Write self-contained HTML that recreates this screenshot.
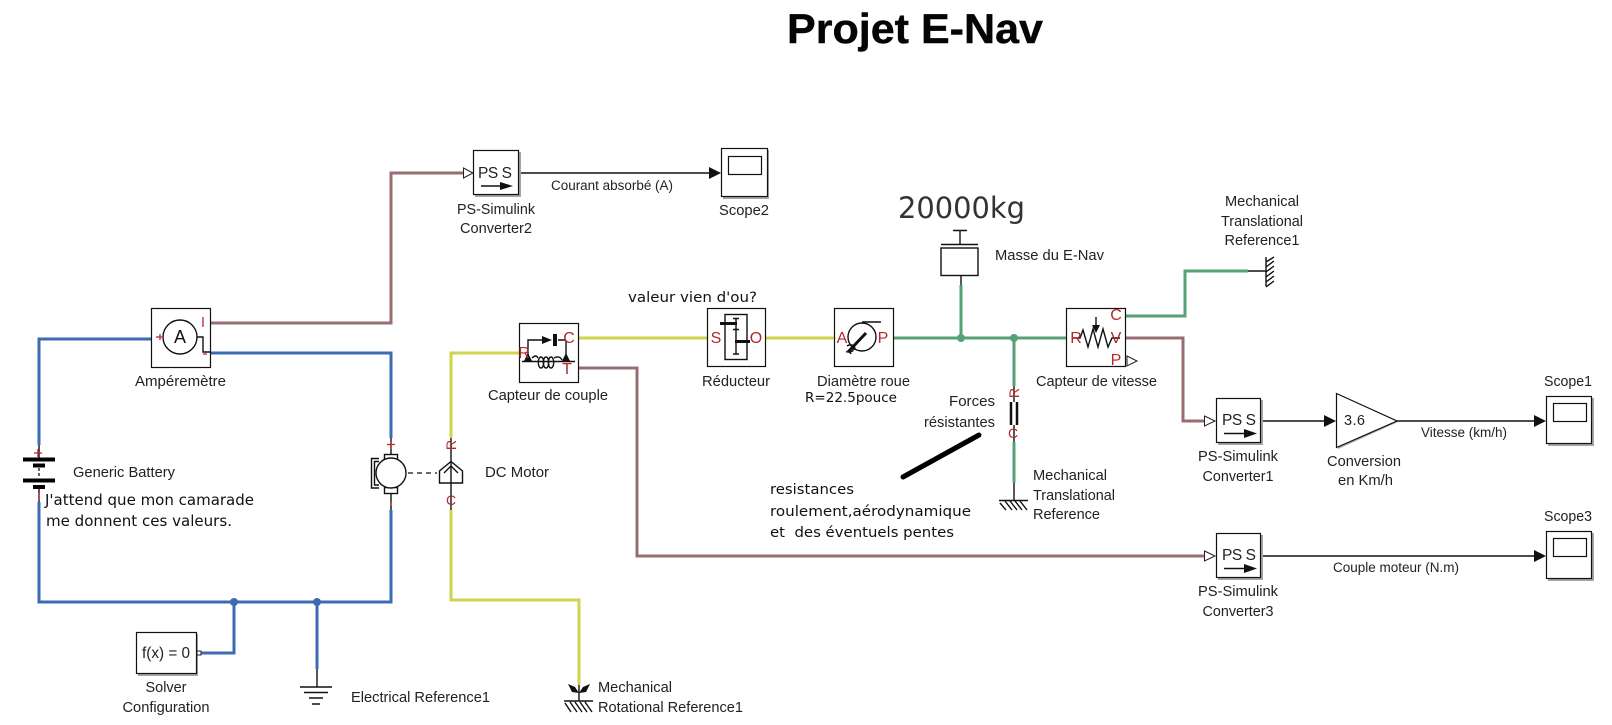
<!DOCTYPE html>
<html><head><meta charset="utf-8"><title>Projet E-Nav</title>
<style>
html,body{margin:0;padding:0;background:#fff;width:1612px;height:725px;overflow:hidden}
svg{display:block}
text{font-family:"Liberation Sans",Arial,sans-serif;font-size:14.5px;fill:#222}
.d{font-family:"DejaVu Sans",sans-serif;fill:#111}
.r{fill:#b5272b;font-size:16px;text-anchor:middle}
.c{text-anchor:middle}
.w{fill:none;stroke-width:3}
.b{stroke:#3b6bb2}.br{stroke:#976d72}.y{stroke:#cdd64c}.g{stroke:#56a278}
.k{fill:none;stroke:#111;stroke-width:1.4}
.box{fill:#fff;stroke:#111;stroke-width:1.2}
.sh{fill:#a5a5a5}
</style></head><body>
<svg width="1612" height="725" viewBox="0 0 1612 725" xmlns="http://www.w3.org/2000/svg">
<rect width="1612" height="725" fill="#fff"/>
<text x="787" y="43" fill="#888" textLength="256" lengthAdjust="spacingAndGlyphs" style="font-size:42px;font-weight:bold;fill:#050505;stroke:#050505;stroke-width:.4">Projet E-Nav</text>

<!-- wires -->
<path class="w b" d="M151 339H39V445"/>
<path class="w b" d="M39 502V602H391V510"/>
<path class="w b" d="M211 353H391V438"/>
<path class="w b" d="M201 653H234V602"/>
<path class="w b" d="M317 602V669"/>
<circle cx="234" cy="602" r="4" fill="#3b6bb2"/><circle cx="317" cy="602" r="4" fill="#3b6bb2"/>
<path class="w br" d="M211 323H391V173H463"/>
<path class="w br" d="M579 368H637V556H1204"/>
<path class="w br" d="M1126 338H1183V421H1204"/>
<path class="w y" d="M519 353H451V438"/>
<path class="w y" d="M451 510V600H579V685"/>
<path class="w y" d="M579 338H707"/>
<path class="w y" d="M766 338H834"/>
<path class="w g" d="M894 338H1066"/>
<path class="w g" d="M961 285V338"/>
<path class="w g" d="M1014 338V386"/>
<path class="w g" d="M1014 442V483"/>
<path class="w g" d="M1126 316H1185V271H1248"/>
<circle cx="961" cy="338" r="4" fill="#56a278"/><circle cx="1014" cy="338" r="4" fill="#56a278"/>

<!-- signal lines -->
<path class="k" d="M519 173H710M1261 421H1325M1397 421H1535M1261 556H1535"/>
<path d="M709 167L721 173L709 179ZM1324 415L1336 421L1324 427ZM1534 415L1546 421L1534 427ZM1534 550L1546 556L1534 562Z" fill="#111"/>

<!-- Ampèremètre -->
<rect class="box" x="151.500" y="308.500" width="59" height="59"/>
<circle cx="180" cy="337" r="17" class="k"/>
<text x="180" y="343" class="c" style="font-size:18px;fill:#111">A</text>
<path class="k" d="M197 337H203V352H211"/>
<path d="M156 337h7M160 334v6M203 317v10M203 354h4" stroke="#b5272b" stroke-width="1.300" fill="none"/>
<text x="135" y="386" textLength="91" lengthAdjust="spacingAndGlyphs">Ampéremètre</text>

<!-- Battery -->
<path d="M39 445V459" class="k"/>
<path d="M23 459.500H55M33 465.500H45M23 480.500H55M33 487H45" stroke="#000" stroke-width="4" fill="none"/>
<path d="M39 468V478" stroke="#111" stroke-width="1.300" stroke-dasharray="3 2"/>
<path d="M39 489V502" class="k"/>
<path d="M34 453h8M38 449v8M39 493v7" stroke="#b5272b" stroke-width="1.300" fill="none"/>
<text x="73" y="477" textLength="102" lengthAdjust="spacingAndGlyphs">Generic Battery</text>
<text x="45" y="505" class="d" textLength="209" lengthAdjust="spacingAndGlyphs" style="font-size:15px">J'attend que mon camarade</text>
<text x="46" y="526" class="d" textLength="186" lengthAdjust="spacingAndGlyphs" style="font-size:15px">me donnent ces valeurs.</text>

<!-- Motor -->
<path class="k" d="M391 438V454M391 493V510"/>
<rect x="384.500" y="454.500" width="13" height="6" class="k"/><rect x="384.500" y="487.500" width="13" height="6" class="k"/>
<circle cx="391" cy="473" r="15" class="k" style="fill:#fff"/>
<path class="k" d="M379 458.500H371.500V488H379M379 461.500H374.500V485H379"/>
<path d="M408 473H437" stroke="#111" stroke-width="1.300" stroke-dasharray="5 4"/>
<path d="M387 444.500h8M391 441v8M391 502v4" stroke="#b5272b" stroke-width="1.300" fill="none"/>
<!-- rotational converter -->
<path class="k" d="M451 438V510"/>
<path class="k" d="M439.500 483V471L451 461.500L462.500 471V483ZM444 473L451 466L458 473"/>
<text x="451" y="450" class="r" style="font-size:14px" transform="rotate(-90 451 445)">R</text>
<text x="451" y="505" class="r" style="font-size:14px">C</text>
<text x="485" y="477" textLength="64" lengthAdjust="spacingAndGlyphs">DC Motor</text>

<!-- Converter2 -->
<rect class="sh" x="475" y="152" width="46" height="45"/>
<rect class="box" x="473.500" y="150.500" width="45" height="44"/>
<path d="M463.500 168L473 173L463.500 178Z" fill="#fff" stroke="#222"/>
<text x="478" y="178" textLength="34" lengthAdjust="spacing" style="font-size:15.500px">PS S</text>
<path d="M481 186H503" class="k"/><path d="M500 182L513 186L500 190Z" fill="#111"/>
<text x="496" y="214" class="c" textLength="78" lengthAdjust="spacingAndGlyphs">PS-Simulink</text>
<text x="496" y="233" class="c" textLength="72" lengthAdjust="spacingAndGlyphs">Converter2</text>
<text x="551" y="190" textLength="122" lengthAdjust="spacingAndGlyphs" style="font-size:13.500px">Courant absorbé (A)</text>
<!-- Scope2 -->
<rect class="sh" x="723" y="150" width="46" height="49"/>
<rect class="box" x="721.500" y="148.500" width="46" height="48"/>
<rect class="box" x="728.500" y="156.500" width="33" height="18"/>
<text x="744" y="215" class="c" textLength="50" lengthAdjust="spacingAndGlyphs">Scope2</text>

<!-- Capteur couple -->
<rect class="box" x="519.500" y="323.500" width="59" height="59"/>
<path class="k" d="M528 360V340H545M566 340V360M522 361.500H575M558 340H566"/>
<path d="M542 336L552 340L542 344ZM553 334h4v12h-4ZM528 353L532 361H524ZM566 353L570 361H562Z" fill="#111"/>
<path class="k" d="M532 358q4-4 6 0"/>
<ellipse cx="541" cy="362.500" rx="2.700" ry="5.500" class="k"/><ellipse cx="546" cy="362.500" rx="2.700" ry="5.500" class="k"/><ellipse cx="551" cy="362.500" rx="2.700" ry="5.500" class="k"/>
<path class="k" d="M554 358q5-3 8 2"/>
<text x="524" y="358" class="r">R</text><text x="569" y="343" class="r">C</text><text x="567" y="374" class="r">T</text>
<text x="488" y="400" textLength="120" lengthAdjust="spacingAndGlyphs">Capteur de couple</text>
<text x="628" y="302" class="d" textLength="129" lengthAdjust="spacingAndGlyphs" style="font-size:14.500px">valeur vien d'ou?</text>

<!-- Réducteur -->
<rect class="box" x="707.500" y="308.500" width="58" height="58"/>
<rect x="725" y="314.500" width="22" height="45" class="k"/>
<path class="k" d="M736 318V354M733 318.500H739M733 329.500H739M733 354H739"/>
<path d="M720 323.500H737M735 341.500H750" stroke="#111" stroke-width="3"/>
<text x="716" y="343" class="r">S</text><text x="756" y="343" class="r">O</text>
<text x="702" y="386" textLength="68" lengthAdjust="spacingAndGlyphs">Réducteur</text>

<!-- Diamètre roue -->
<rect class="box" x="834.500" y="308.500" width="59" height="58"/>
<circle cx="862" cy="337" r="14" class="k"/>
<path class="k" d="M862 322H881"/>
<path d="M848 352L866 333" stroke="#111" stroke-width="3" fill="none"/>
<path class="k" d="M847 346q5-3 6 2t-5 3M851 345q4 0 4 5M846 352q4-1 5 2"/>
<text x="842" y="343" class="r">A</text><text x="883" y="343" class="r">P</text>
<text x="817" y="386" textLength="93" lengthAdjust="spacingAndGlyphs">Diamètre roue</text>
<text x="805" y="402" class="d" textLength="92" lengthAdjust="spacingAndGlyphs" style="font-size:13px;fill:#111">R=22.5pouce</text>

<!-- Masse -->
<text x="898" y="218" class="d" textLength="127" lengthAdjust="spacingAndGlyphs" style="font-size:29px;fill:#333">20000kg</text>
<path class="k" d="M953 230.500H967M960 230.500V244M941 244.500H978M961 275V285"/>
<rect x="941" y="248" width="37" height="27.500" class="k"/>
<text x="995" y="260" textLength="109" lengthAdjust="spacingAndGlyphs">Masse du E-Nav</text>

<!-- Forces -->
<path class="k" d="M1014 386V402M1014 425V442"/>
<path d="M1011 402V425M1017 402V425" stroke="#111" stroke-width="2.500"/>
<text x="1014" y="398" class="r" style="font-size:14px" transform="rotate(-90 1014 393)">R</text>
<text x="1013" y="438" class="r" style="font-size:14px">C</text>
<text x="949" y="406" textLength="46" lengthAdjust="spacingAndGlyphs">Forces</text>
<text x="924" y="427" textLength="71" lengthAdjust="spacingAndGlyphs">résistantes</text>
<path d="M903 477L979 435" stroke="#000" stroke-width="5" stroke-linecap="round"/>
<path class="k" d="M1014 483V500M999 500.500H1028M1000 503l6 7M1005 501l7 9M1010 501l7 9M1015 501l7 9M1020 501l7 9"/>
<text x="1033" y="480" textLength="74" lengthAdjust="spacingAndGlyphs">Mechanical</text>
<text x="1033" y="500" textLength="82" lengthAdjust="spacingAndGlyphs">Translational</text>
<text x="1033" y="519" textLength="67" lengthAdjust="spacingAndGlyphs">Reference</text>
<text x="770" y="494" class="d" textLength="84" lengthAdjust="spacingAndGlyphs" style="font-size:14.500px">resistances</text>
<text x="770" y="516" class="d" textLength="201" lengthAdjust="spacingAndGlyphs" style="font-size:14.500px">roulement,aérodynamique</text>
<text x="770" y="537" class="d" textLength="184" lengthAdjust="spacingAndGlyphs" style="font-size:14.500px" xml:space="preserve">et  des éventuels pentes</text>

<!-- Capteur vitesse -->
<rect class="box" x="1066.500" y="308.500" width="59" height="58"/>
<path class="k" d="M1072 338H1080L1083 330L1088 347L1093 329L1098 347L1103 329L1108 347L1112 338H1120M1096 317V326"/>
<path d="M1092 325H1100L1096 333Z" fill="#111"/>
<text x="1076" y="343" class="r">R</text><text x="1116" y="343" class="r">V</text><text x="1116" y="320" class="r">C</text><text x="1116" y="365" class="r">P</text>
<path d="M1127 356L1137 361L1127 366Z" fill="#fff" stroke="#222"/>
<text x="1036" y="386" textLength="121" lengthAdjust="spacingAndGlyphs">Capteur de vitesse</text>

<!-- Mechanical Translational Reference1 -->
<path class="k" d="M1248 271H1266M1266 257V286M1266 262l8-5M1266 267l8-6M1266 272l8-6M1266 277l8-6M1266 282l8-6M1266 287l8-6"/>
<text x="1262" y="206" class="c" textLength="74" lengthAdjust="spacingAndGlyphs">Mechanical</text>
<text x="1262" y="226" class="c" textLength="82" lengthAdjust="spacingAndGlyphs">Translational</text>
<text x="1262" y="245" class="c" textLength="75" lengthAdjust="spacingAndGlyphs">Reference1</text>

<!-- Converter1 -->
<rect class="sh" x="1218" y="400" width="45" height="45"/>
<rect class="box" x="1216.500" y="398.500" width="44" height="44"/>
<path d="M1204.500 416L1215 421L1204.500 426Z" fill="#fff" stroke="#222"/>
<text x="1222" y="425" textLength="34" lengthAdjust="spacing" style="font-size:15.500px">PS S</text>
<path d="M1224 433.500H1247" class="k"/><path d="M1244 429L1257 433.500L1244 438Z" fill="#111"/>
<text x="1238" y="461" class="c" textLength="80" lengthAdjust="spacingAndGlyphs">PS-Simulink</text>
<text x="1238" y="481" class="c" textLength="71" lengthAdjust="spacingAndGlyphs">Converter1</text>
<!-- Gain -->
<path d="M1338 395L1398 422L1338 449Z" fill="#a5a5a5"/>
<path d="M1336.500 393.500L1397 421L1336.500 447.500Z" fill="#fff" stroke="#111" stroke-width="1.200"/>
<text x="1344" y="425" textLength="21" lengthAdjust="spacing" style="font-size:14.500px">3.6</text>
<text x="1327" y="466" textLength="74" lengthAdjust="spacingAndGlyphs">Conversion</text>
<text x="1338" y="485" textLength="55" lengthAdjust="spacingAndGlyphs">en Km/h</text>
<text x="1421" y="437" textLength="86" lengthAdjust="spacingAndGlyphs" style="font-size:13.500px">Vitesse (km/h)</text>
<!-- Scope1 -->
<rect class="sh" x="1548" y="398" width="46" height="48"/>
<rect class="box" x="1546.500" y="396.500" width="45" height="47"/>
<rect class="box" x="1553.500" y="403.500" width="33" height="18"/>
<text x="1568" y="386" class="c" textLength="48" lengthAdjust="spacingAndGlyphs">Scope1</text>

<!-- Converter3 -->
<rect class="sh" x="1218" y="535" width="45" height="45"/>
<rect class="box" x="1216.500" y="533.500" width="44" height="44"/>
<path d="M1204.500 551L1215 556L1204.500 561Z" fill="#fff" stroke="#222"/>
<text x="1222" y="560" textLength="34" lengthAdjust="spacing" style="font-size:15.500px">PS S</text>
<path d="M1224 568.500H1247" class="k"/><path d="M1244 564L1257 568.500L1244 573Z" fill="#111"/>
<text x="1238" y="596" class="c" textLength="80" lengthAdjust="spacingAndGlyphs">PS-Simulink</text>
<text x="1238" y="616" class="c" textLength="71" lengthAdjust="spacingAndGlyphs">Converter3</text>
<text x="1333" y="572" textLength="126" lengthAdjust="spacingAndGlyphs" style="font-size:13.500px">Couple moteur (N.m)</text>
<!-- Scope3 -->
<rect class="sh" x="1548" y="533" width="46" height="48"/>
<rect class="box" x="1546.500" y="531.500" width="45" height="47"/>
<rect class="box" x="1553.500" y="538.500" width="33" height="18"/>
<text x="1568" y="521" class="c" textLength="48" lengthAdjust="spacingAndGlyphs">Scope3</text>

<!-- Solver -->
<rect class="sh" x="138" y="634" width="60" height="42"/>
<rect class="box" x="136.500" y="632.500" width="60" height="41"/>
<rect x="197" y="651" width="4" height="4" fill="#fff" stroke="#222"/>
<text x="166" y="658" class="c" textLength="48" lengthAdjust="spacingAndGlyphs" style="font-size:15.500px">f(x) = 0</text>
<text x="166" y="692" class="c" textLength="41" lengthAdjust="spacingAndGlyphs">Solver</text>
<text x="166" y="712" class="c" textLength="87" lengthAdjust="spacingAndGlyphs">Configuration</text>

<!-- Electrical ref -->
<path class="k" d="M317 669V687M300 687H332M304 692.500H328M309 698H323M312 704H320"/>
<text x="351" y="702" textLength="139" lengthAdjust="spacingAndGlyphs">Electrical Reference1</text>

<!-- Mechanical Rotational Ref -->
<path class="k" d="M579 685V701M564 701H593M565 703l6 9M570 702l7 10M575 702l7 10M580 702l7 10M585 702l7 10"/>
<path d="M568 684L575 687L579 693L572 692ZM590 684L583 687L579 693L586 692Z" fill="#111"/>
<text x="598" y="692" textLength="74" lengthAdjust="spacingAndGlyphs">Mechanical</text>
<text x="598" y="712" textLength="145" lengthAdjust="spacingAndGlyphs">Rotational Reference1</text>
</svg>
</body></html>
